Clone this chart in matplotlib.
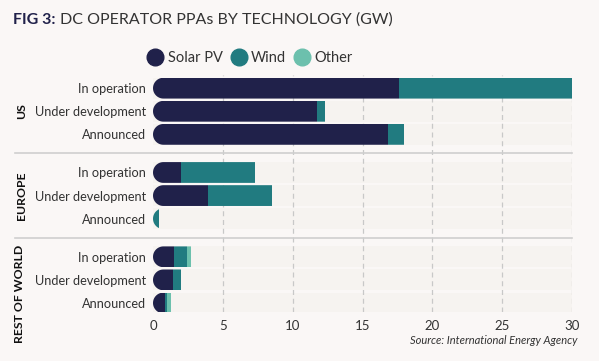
import numpy as np
import matplotlib
matplotlib.use('Agg')
import matplotlib.pyplot as plt
from matplotlib.path import Path
from matplotlib.patches import PathPatch
from matplotlib.lines import Line2D

plt.rcParams['font.family'] = ['Lato', 'DejaVu Sans']

# data (GW)
regions = ['US', 'EUROPE', 'REST OF WORLD']
stages = ['In operation', 'Under development', 'Announced']
solar = [17.6, 11.75, 16.8,   2.0, 3.95, 0.0,   1.5, 1.43, 0.86]
wind = [12.4, 0.55, 1.15,    5.3, 4.55, 0.42,  0.93, 0.57, 0.14]
other = [0.0, 0.0, 0.0,      0.0, 0.0, 0.0,    0.29, 0.0, 0.29]

c_solar = '#20214a'
c_wind = '#217b80'
c_other = '#6cc0ad'
bg = '#faf7f6'
track = '#f6f3f0'

fig = plt.figure(figsize=(5.99, 3.61), dpi=100, facecolor=bg)
ax = fig.add_axes([153 / 599, 1 - 312 / 361, (572 - 153) / 599, (312 - 75) / 361])
ax.set_facecolor(bg)

gap = 0.65
ypos = []
for g in range(3):
    for i in range(3):
        ypos.append(g * (3 + gap) + i)
ypos = np.array(ypos)
h = 0.9

ax.set_xlim(0, 30)
ax.set_ylim(ypos[-1] + 0.39, -0.57)

# light tracks behind bars
ax.barh(ypos, [30] * 9, height=h, color=track, zorder=1)
for x in range(5, 31, 5):
    ax.axvline(x, color='#c8c8c8', lw=0.9, ls=(0, (4, 3)), zorder=2)

# rounded left end: clip each row
px_x = ax.bbox.width / 30
px_y = ax.bbox.height / (ypos[-1] + 0.39 + 0.57)
ry = h / 2
rx = ry * px_y / px_x
t = np.linspace(np.pi / 2, 3 * np.pi / 2, 30)

s = np.array(solar)
w = np.array(wind)
o = np.array(other)
bars = []
bars += list(ax.barh(ypos, s, height=h, color=c_solar, zorder=3))
bars += list(ax.barh(ypos, w, left=s, height=h, color=c_wind, zorder=3))
bars += list(ax.barh(ypos, o, left=s + w, height=h, color=c_other, zorder=3))

clips = []
for y in ypos:
    xs = np.concatenate([[40, rx], rx + rx * np.cos(t), [40]])
    ys = np.concatenate([[y - ry, y - ry], y - ry * np.sin(t), [y + ry]])
    verts = np.column_stack([xs, ys])
    verts = np.vstack([verts, verts[:1]])
    codes = [Path.MOVETO] + [Path.LINETO] * (len(verts) - 2) + [Path.CLOSEPOLY]
    pp = PathPatch(Path(verts, codes), transform=ax.transData, visible=False)
    ax.add_patch(pp)
    clips.append(pp)
for k, b in enumerate(bars):
    b.set_clip_path(clips[k % 9])

ax.set_yticks(ypos)
ax.set_yticklabels(stages * 3, fontsize=9.2, color='#333333')
ax.set_xticks(range(0, 31, 5))
ax.tick_params(axis='x', labelsize=9.5, colors='#333333', length=0, pad=6)
ax.tick_params(axis='y', length=0, pad=5)
for sp in ax.spines.values():
    sp.set_visible(False)

# group separators and labels
for g in range(1, 3):
    ysep = (ypos[3 * g - 1] + ypos[3 * g]) / 2
    ax.plot([-9.9, 30], [ysep, ysep], color='#cfcfcf', lw=1.2, clip_on=False, zorder=2)
ax.text(-9.4, ypos[1], regions[0], rotation=90, ha='center', va='center',
        fontsize=8.8, fontweight='bold', color='#111111')
ax.text(-9.4, ypos[4], regions[1], rotation=90, ha='center', va='center',
        fontsize=8.8, fontweight='bold', color='#111111')
fig.text(20 / 599, 1 - 245 / 361, regions[2], rotation=90, ha='center', va='top',
         fontsize=8.8, fontweight='bold', color='#111111')

t1 = fig.text(13 / 599, 1 - 20 / 361, 'FIG 3:', fontsize=11.5, fontweight='bold',
              color=c_solar, va='center')
fig.canvas.draw()
x_end = t1.get_window_extent().x1
fig.text((x_end + 4) / 599, 1 - 20 / 361, 'DC OPERATOR PPAs BY TECHNOLOGY (GW)', fontsize=11.5,
         color='#333333', va='center')

handles = [Line2D([], [], marker='o', ls='', ms=12, color=c) for c in (c_solar, c_wind, c_other)]
fig.legend(handles, ['Solar PV', 'Wind', 'Other'], loc='center left',
           bbox_to_anchor=(148 / 599, 1 - 58 / 361), ncol=3, frameon=False,
           fontsize=10.5, handlelength=1.0, handletextpad=0.35, columnspacing=0.6,
           labelcolor='#333333', borderaxespad=0, borderpad=0)

fig.text(578 / 599, 1 - 340 / 361, 'Source: International Energy Agency', fontsize=8,
         style='italic', ha='right', va='center', color='#333333')

fig.savefig('out.png', dpi=100, facecolor=bg)
